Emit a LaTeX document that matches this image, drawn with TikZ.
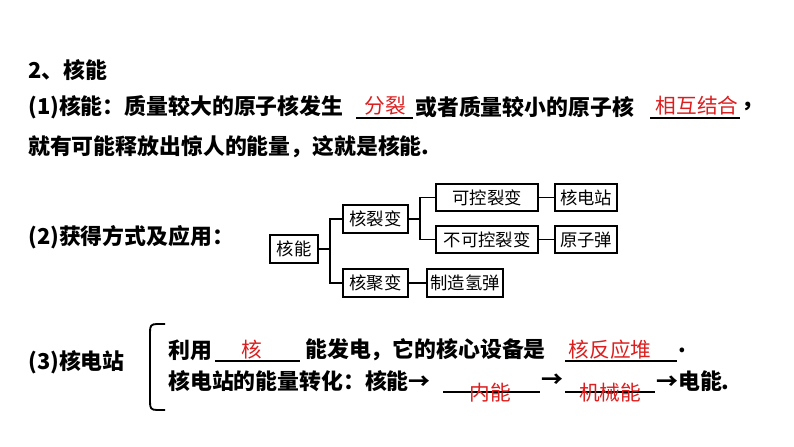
\documentclass[tikz,border=0pt]{standalone}
\usepackage{fontspec}
\setmainfont{Liberation Serif}
\newfontfamily\cjk{Noto Sans CJK SC}
\definecolor{ans}{RGB}{220,30,30}
\begin{document}
\begin{tikzpicture}[x=0.75pt,y=-0.75pt,
  txt/.style={anchor=west,inner sep=0pt,font=\cjk\bfseries\fontsize{16.4}{18}\selectfont},
  ansr/.style={inner sep=0pt,text=ans,font=\cjk\fontsize{15.5}{17}\selectfont},
  bx/.style={draw,line width=0.9pt,inner sep=0pt,font=\cjk\fontsize{13}{14}\selectfont},
  ln/.style={line width=0.9pt}]
\useasboundingbox (0,0) rectangle (794,447);
\node[txt] (t0) at (28,70) {2、核能};
\node[txt] (t1) at (28,107) {(1)核能：质量较大的原子核发生};
\node[txt] (t1b) at (415,107) {或者质量较小的原子核};
\node[txt] (t1c) at (741,107) {，};
\draw[ln] (356,118) -- (413,118); \node[ansr] (a1) at (385,106) {分裂};
\draw[ln] (650,118) -- (740,118); \node[ansr] (a2) at (697,106) {相互结合};
\node[txt] (t2) at (28,147) {就有可能释放出惊人的能量，这就是核能.};
\node[txt] (t3) at (28,237) {(2)获得方式及应用：};
% tree
\node[bx,minimum width=36pt,minimum height=21pt] (hn) at (294,249) {核能};
\node[bx,minimum width=48.75pt,minimum height=21pt] (lb) at (375.5,219) {核裂变};
\node[bx,minimum width=48.75pt,minimum height=21pt] (jb) at (375.5,283) {核聚变};
\node[bx,minimum width=76.5pt,minimum height=20.25pt] (kk) at (487,197.5) {可控裂变};
\node[bx,minimum width=46.5pt,minimum height=20.25pt] (dz) at (586,197.5) {核电站};
\node[bx,minimum width=76.5pt,minimum height=20.25pt] (bk) at (487,239.5) {不可控裂变};
\node[bx,minimum width=46.5pt,minimum height=20.25pt] (yz) at (586,239.5) {原子弹};
\node[bx,minimum width=57pt,minimum height=21pt] (qd) at (465,283) {制造氢弹};
\draw[ln] (hn.east) -- (330,249);
\draw[ln] (lb.west) -| (330,249) |- (jb.west);
\draw[ln] (lb.east) -- (420,219);
\draw[ln] (kk.west) -| (420,219) |- (bk.west);
\draw[ln] (kk) -- (dz); \draw[ln] (bk) -- (yz); \draw[ln] (jb) -- (qd);
% part 3
\node[txt] (t4) at (28,362) {(3)核电站};
\draw[line width=1.4pt] (165,324) -- (157,324) .. controls (151,324) and (150,326) .. (150,332) -- (150,402) .. controls (150,408) and (151,410) .. (157,410) -- (165,410);
\node[txt] (t5) at (168,350) {利用};
\node[txt] (t5b) at (305,350) {能发电，它的核心设备是};
\node[txt] (t5c) at (678,350) {.};
\draw[ln] (215,361) -- (300,361); \node[ansr] (a3) at (252,350) {核};
\draw[ln] (565,361) -- (677,361); \node[ansr] (a4) at (610,350) {核反应堆};
\node[txt] (t6) at (168,381) {核电站的能量转化：核能→};
\node[txt] (t6b) at (541,381) {→};
\node[txt] (t6c) at (656,381) {→电能.};
\draw[ln] (443,392) -- (540,392); \node[ansr] (a5) at (490,393) {内能};
\draw[ln] (565,392) -- (655,392); \node[ansr] (a6) at (610,393) {机械能};
\end{tikzpicture}
\end{document}
